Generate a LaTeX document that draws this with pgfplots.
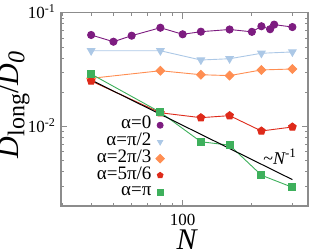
\documentclass[border=0pt]{standalone}
\usepackage{fontspec}
\setmainfont{Liberation Serif}
\usepackage{pgfplots}
\pgfplotsset{compat=1.18}
\definecolor{cpur}{RGB}{125,28,128}
\definecolor{cblu}{RGB}{172,200,230}
\definecolor{cora}{RGB}{255,142,82}
\definecolor{cred}{RGB}{222,42,26}
\definecolor{cgrn}{RGB}{62,176,92}
\definecolor{cax}{RGB}{140,140,140}
\begin{document}
\begin{tikzpicture}
\begin{axis}[name=ax, xmode=log, ymode=log, scale only axis,
 width=247pt, height=193.3pt,
 xmin=29.58, xmax=350.8, ymin=0.002, ymax=0.1,
 xtick={100}, xticklabels={100},
 minor xtick={30,40,50,60,70,80,90,200,300},
 ytick={0.01,0.1},
 yticklabels={10\raisebox{6pt}{\fontsize{12}{12}\selectfont -2},10\raisebox{6pt}{\fontsize{12}{12}\selectfont -1}},
 minor ytick={0.002,0.003,0.004,0.005,0.006,0.007,0.008,0.009,0.02,0.03,0.04,0.05,0.06,0.07,0.08,0.09},
 axis line style={draw=cax, line width=1.2pt},
 every tick/.style={draw=cax, line width=0.8pt},
 major tick length=6pt, minor tick length=3.5pt,
 tick align=inside,
 xticklabel style={font=\fontsize{17}{17}\selectfont, anchor=base, inner sep=0pt, yshift=-19.7pt},
 yticklabel style={font=\fontsize{17}{17}\selectfont, anchor=base east, inner sep=0pt, xshift=-6pt, yshift=-5.7pt},
 xlabel={\itshape N},
 xlabel style={font=\fontsize{30}{30}\selectfont, at={(axis description cs:0.5,0)}, anchor=base, yshift=-43pt, xshift=2pt, inner sep=0pt},
 ylabel={{\itshape D}\raisebox{-6pt}{\fontsize{24}{24}\selectfont long}/{\itshape D\raisebox{-6pt}{\fontsize{24}{24}\selectfont 0}}},
 ylabel style={font=\fontsize{30}{30}\selectfont, at={(axis description cs:-0.1729,0.523)}, anchor=base, inner sep=0pt},
 legend style={at={(axis description cs:0.4194,0.462)}, anchor=north east, draw=none, fill=none, inner sep=0pt,
   font=\fontsize{19}{19}\selectfont, nodes={inner sep=0pt, text height=12pt, text depth=4.7pt}, column sep=4.5pt},
 legend cell align=right, legend plot pos=right,
 legend image code/.code={\draw[#1,only marks,mark size=3pt] plot coordinates {(0pt,0pt)};},
]
\addplot[cpur, line width=0.9pt, mark=*, mark size=3.6pt] coordinates {
(40,0.0637) (50,0.0556) (60,0.0628) (80,0.0738) (100,0.0646) (120,0.0681)
(160,0.0712) (200,0.0679) (220,0.0760) (240,0.0716) (250,0.0786) (300,0.0748)};
\addlegendentry{α=0}
\addplot[cblu, line width=0.9pt, mark=triangle*, mark size=4.3pt, mark options={rotate=180}] coordinates {
(40,0.0463) (80,0.0463) (120,0.0384) (160,0.0394) (220,0.0440) (300,0.0452)};
\addlegendentry{α=π/2}
\addplot[cora, line width=0.9pt, mark=square*, mark size=3.1pt, mark options={rotate=45}] coordinates {
(40,0.0265) (80,0.0309) (120,0.0285) (160,0.0280) (220,0.0314) (300,0.0320)};
\addlegendentry{α=2π/3}
\addplot[cred, line width=0.9pt, mark=pentagon*, mark size=4pt] coordinates {
(40,0.0251) (80,0.0132) (120,0.01195) (160,0.01245) (220,0.00913) (300,0.00990)};
\addlegendentry{α=5π/6}
\addplot[cgrn, line width=0.9pt, mark=square*, mark size=3.5pt] coordinates {
(40,0.0289) (80,0.01333) (120,0.00734) (160,0.00685) (220,0.00373) (300,0.00292)};
\addlegendentry{α=π}
\addplot[black, line width=1pt, forget plot] coordinates {(40,0.0256) (300,0.003413)};
\node[anchor=base west, inner sep=0pt, font=\fontsize{18}{18}\selectfont] at (axis cs:224,0.00459) {\textasciitilde{\itshape N}\raisebox{7pt}{\fontsize{13}{13}\selectfont -1}};
\end{axis}
\pgfresetboundingbox
\useasboundingbox ([shift={(-61pt,-43pt)}]ax.south west) rectangle ([shift={(1pt,12.7pt)}]ax.north east);
\end{tikzpicture}
\end{document}
